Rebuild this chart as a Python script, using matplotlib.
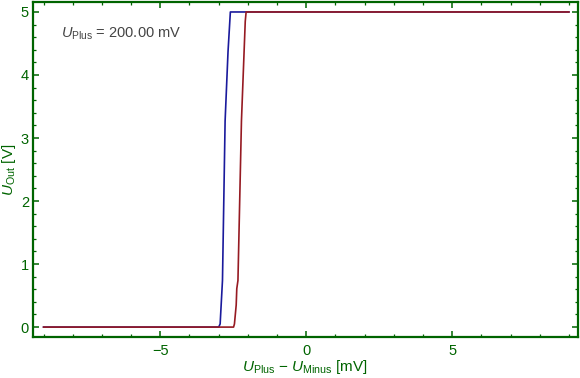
import matplotlib
matplotlib.use("Agg")
import matplotlib.pyplot as plt
from matplotlib.ticker import MultipleLocator

# Daten der beiden Kennlinien
x_blau = [-9.0, -3.0, -2.95, -2.87, -2.78, -2.68, -2.60, 9.0]
u_blau = [0.0, 0.0, 0.05, 0.74, 3.27, 4.37, 5.0, 5.0]
x_rot = [-9.0, -2.49, -2.46, -2.40, -2.38, -2.34, -2.22, -2.09, -2.06, 9.0]
u_rot = [0.0, 0.0, 0.05, 0.35, 0.61, 0.74, 3.27, 4.85, 5.0, 5.0]

u_plus_text = "200.00 mV"

plt.rcParams['font.family'] = ['Liberation Sans', 'DejaVu Sans']
plt.rcParams['mathtext.fontset'] = 'custom'
plt.rcParams['mathtext.rm'] = 'Liberation Sans'
plt.rcParams['mathtext.it'] = 'Liberation Sans:italic'

gruen = '#006400'

fig = plt.figure(figsize=(5.8, 3.78), dpi=100)
ax = fig.add_axes([0.057, 0.108, 0.94, 0.887])

ax.plot(x_blau, u_blau, color='#1a1a9c', lw=1.2)
ax.plot(x_rot, u_rot, color='#961a22', lw=1.2)

ax.set_xlim(-9.36, 9.32)
ax.set_ylim(-0.16, 5.16)

ax.xaxis.set_major_locator(MultipleLocator(5))
ax.xaxis.set_minor_locator(MultipleLocator(1))
ax.yaxis.set_major_locator(MultipleLocator(1))
ax.yaxis.set_minor_locator(MultipleLocator(0.2))

for s in ax.spines.values():
    s.set_color(gruen)
    s.set_linewidth(1.6)

ax.tick_params(which='both', direction='in', top=True, right=True,
               color=gruen, labelcolor=gruen, labelsize=10.5)
ax.tick_params(which='major', length=4, width=1.1, pad=3)
ax.tick_params(which='minor', length=2.5, width=0.9)
ax.tick_params(axis='x', pad=5)

ax.set_xlabel(r'$U_{\mathrm{Plus}}$ $-$ $U_{\mathrm{Minus}}$ [mV]',
              color=gruen, fontsize=11)
ax.set_ylabel(r'$U_{\mathrm{Out}}$ [V]', color=gruen, fontsize=11)
ax.xaxis.set_label_coords(0.499, -0.062)
ax.yaxis.set_label_coords(-0.027, 0.5)

ax.text(-8.4, 4.66, r'$U_{\mathrm{Plus}}$ = ' + u_plus_text,
        color='#444444', fontsize=10.5, va='center', ha='left')

fig.savefig('out.png', dpi=100)
